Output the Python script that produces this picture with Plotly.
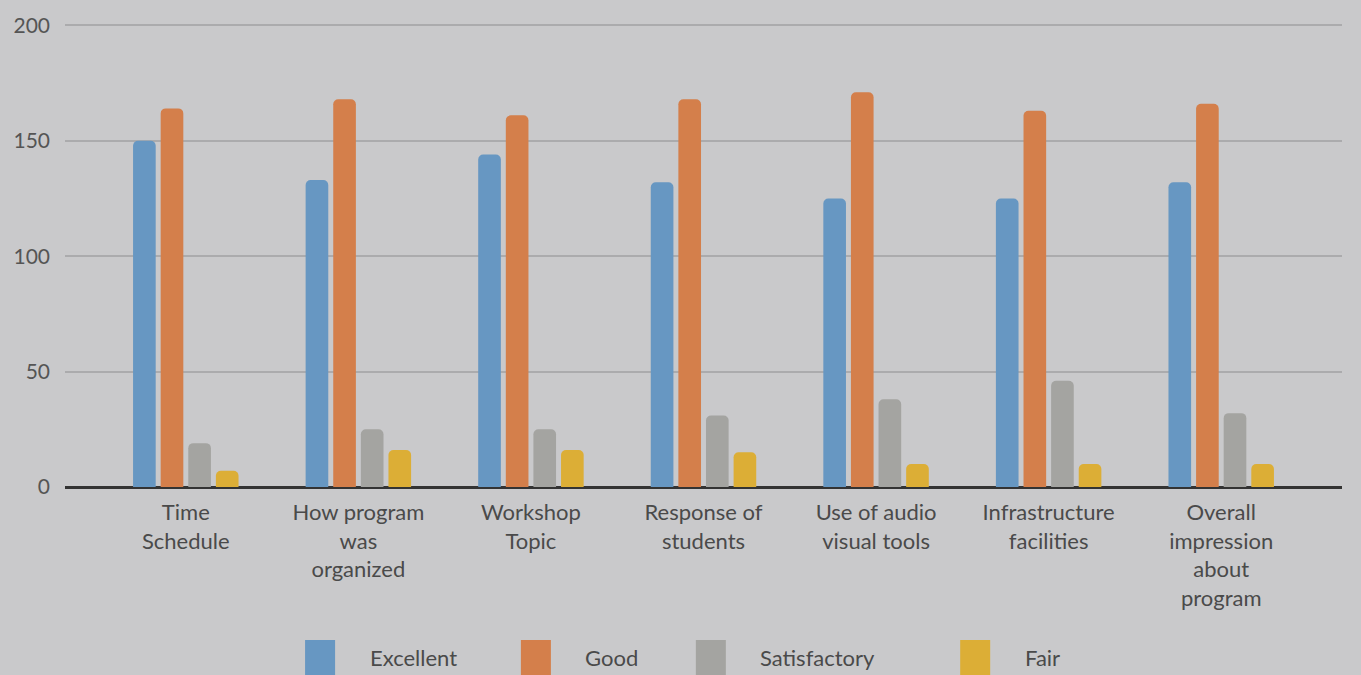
import plotly.graph_objects as go

categories = [
    "Time<br>Schedule",
    "How program<br>was<br>organized",
    "Workshop<br>Topic",
    "Response of<br>students",
    "Use of audio<br>visual tools",
    "Infrastructure<br>facilities",
    "Overall<br>impression<br>about<br>program",
]
excellent = [150, 133, 144, 132, 125, 125, 132]
good = [164, 168, 161, 168, 171, 163, 166]
satisfactory = [19, 25, 25, 31, 38, 46, 32]
fair = [7, 16, 16, 15, 10, 10, 10]

series_names = ["Excellent", "Good", "Satisfactory", "Fair"]
series_values = [excellent, good, satisfactory, fair]
series_colors = ["#6797c2", "#d47f4b", "#a4a4a1", "#dcae36"]

y_ticks = [0, 50, 100, 150, 200]

BG = "#c9c9cb"
FONT = "Lato, 'Open Sans', sans-serif"

fig = go.Figure()
for name, vals, col in zip(series_names, series_values, series_colors):
    fig.add_trace(go.Bar(
        name=name, x=list(range(len(categories))), y=vals,
        marker=dict(color=col, line=dict(width=0)),
        showlegend=False,
    ))

# custom legend with large square swatches
legend_x = [0.188, 0.357, 0.494, 0.701]
for name, col, lx in zip(series_names, series_colors, legend_x):
    fig.add_shape(type="rect", xref="paper", yref="paper",
                  x0=lx, x1=lx + 0.0235, y0=-0.41, y1=-0.33,
                  fillcolor=col, line=dict(width=0))
    fig.add_annotation(xref="paper", yref="paper", x=lx + 0.049, y=-0.368,
                       text=name, showarrow=False, xanchor="left",
                       yanchor="middle",
                       font=dict(family=FONT, size=22, color="#4a4a4a"))

fig.update_layout(
    width=1361, height=675,
    margin=dict(l=65, r=19, t=23, b=188),
    paper_bgcolor=BG, plot_bgcolor=BG,
    barmode="group", bargap=0.36, bargroupgap=0.18,
    barcornerradius=5,
    font=dict(family=FONT, size=20, color="#4a4a4a"),
    xaxis=dict(
        range=[-0.7, 6.7],
        tickmode="array", tickvals=list(range(len(categories))),
        ticktext=categories, tickangle=0,
        showgrid=False, zeroline=False, showline=False,
        ticks="", ticklabelstandoff=10,
        tickfont=dict(size=22, color="#4a4a4a"),
    ),
    yaxis=dict(
        range=[0, 201], tickmode="array", tickvals=y_ticks,
        showgrid=True, gridcolor="#ababad", gridwidth=1.5,
        zeroline=True, zerolinecolor="#333333", zerolinewidth=2.5,
        showline=False, ticks="", ticklabelstandoff=14,
        tickfont=dict(size=21, color="#555555"),
    ),
)

fig.write_html("out.html")
